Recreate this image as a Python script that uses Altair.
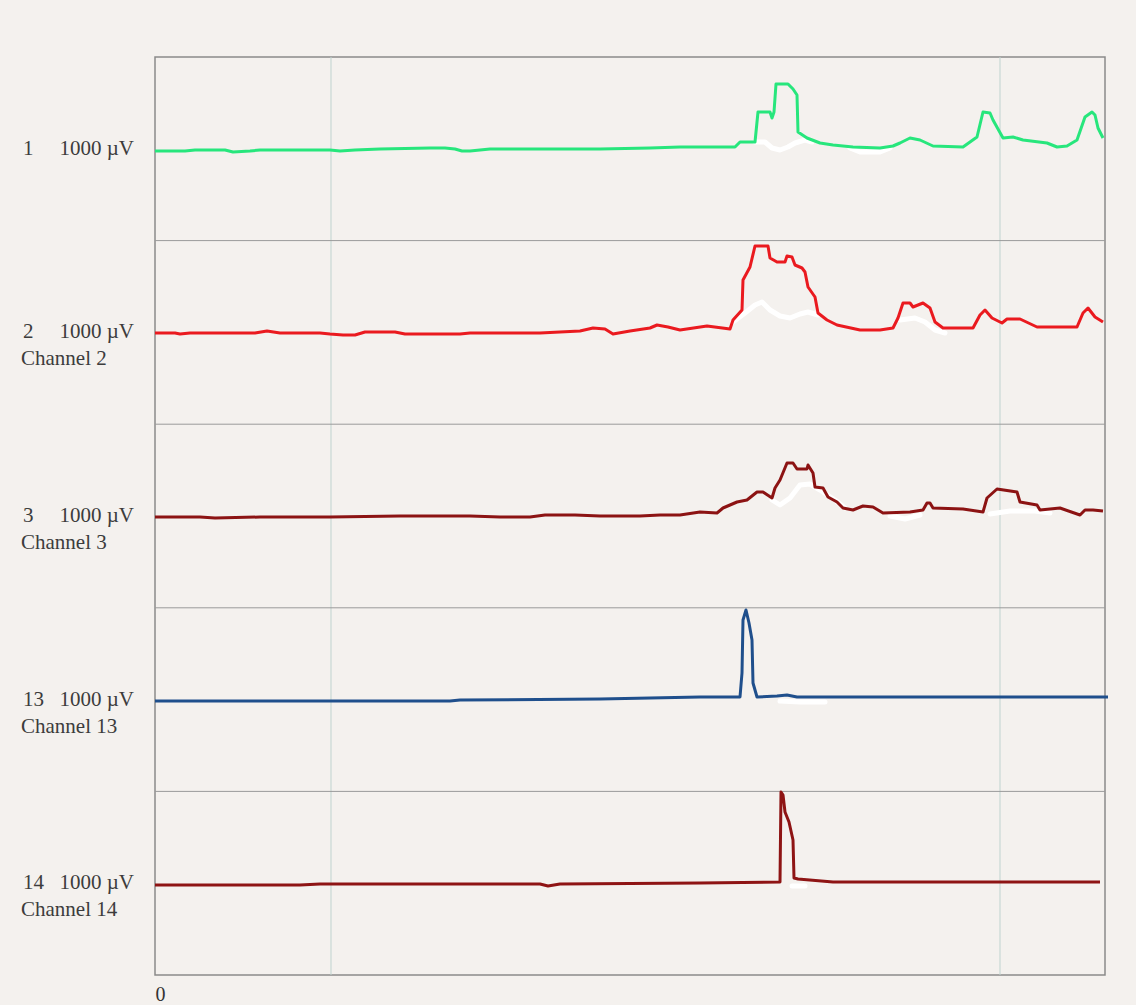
import altair as alt
import pandas as pd

# Each channel strip spans this many µV; strips are stacked bottom to top.
PANEL_UV = 1836
X_MAX = 950

channels = ["1", "2", "3", "13", "14"]
channel_colors = ["#27e67c", "#ea1a1f", "#8c1313", "#1f4f8c", "#8e1414"]
sensitivity = "1000 µV"
sub_labels = ["", "Channel 2", "Channel 3", "Channel 13", "Channel 14"]

# Marker positions along the time axis
markers_x = [176, 845]
axis_labels_x = [0]

# --- channel 1 -------------------------------------------------------------
ch1_x = [0, 30, 40, 70, 78, 95, 105, 175, 185, 200, 225, 275, 290, 300, 307, 315,
         325, 335, 445, 495, 525, 545, 580, 585, 600, 603, 615, 617, 619, 621, 633,
         638, 642, 643, 652, 665, 678, 698, 725, 738, 745, 755, 765, 778, 808, 822,
         828, 835, 838, 848, 858, 868, 892, 902, 912, 922, 930, 937, 940, 943, 948]
ch1_uv = [-22, -22, -12, -12, -32, -22, -12, -12, -22, -12, -2, 8, 8, -2, -22, -22,
          -12, -2, -2, 8, 18, 18, 18, 68, 68, 368, 368, 308, 368, 648, 648,
          598, 538, 168, 108, 58, 38, 18, 8, 28, 58, 108, 88, 28, 18, 118,
          368, 358, 288, 108, 118, 88, 58, 18, 28, 88, 318, 368, 338, 208, 108]
ch1_ref_x = [[600, 610, 617, 625, 633, 640, 650, 657], [695, 705, 725, 735]]
ch1_ref_uv = [[68, 68, 8, -12, 18, 58, 88, 68], [8, -32, -32, 8]]

# --- channel 2 -------------------------------------------------------------
ch2_x = [0, 20, 25, 35, 100, 112, 125, 165, 175, 188, 200, 210, 240, 250, 305, 315,
         385, 405, 425, 438, 450, 458, 475, 495, 502, 513, 525, 552, 575, 578, 587,
         588, 595, 600, 613, 615, 622, 630, 632, 637, 640, 647, 650, 653, 660, 663,
         672, 682, 705, 725, 738, 743, 748, 755, 758, 768, 775, 780, 788, 818, 825,
         830, 837, 847, 852, 865, 882, 922, 928, 933, 940, 948]
ch2_uv = [-6, -6, -16, -6, -6, 14, -6, -6, -16, -26, -26, 4, 4, -16, -16, -6,
          -6, 4, 14, 44, 34, -16, 14, 44, 74, 54, 24, 64, 34, 124, 224,
          524, 654, 864, 864, 744, 704, 704, 764, 754, 674, 644, 604, 454, 354, 194,
          124, 74, 24, 24, 44, 144, 294, 294, 254, 294, 244, 104, 44, 44, 174,
          224, 144, 94, 134, 134, 54, 54, 194, 244, 154, 104]
ch2_ref_x = [[578, 590, 600, 607, 615, 625, 635, 645, 653, 663], [745, 760, 770, 780, 790]]
ch2_ref_uv = [[104, 194, 274, 304, 224, 164, 144, 184, 204, 174], [124, 144, 104, 24, -6]]

# --- channel 3 -------------------------------------------------------------
ch3_x = [0, 45, 60, 105, 175, 245, 315, 345, 375, 390, 420, 445, 485, 505, 525, 545,
         562, 568, 582, 592, 602, 608, 617, 620, 625, 632, 638, 642, 652, 653, 658,
         660, 668, 673, 682, 688, 698, 708, 718, 728, 755, 768, 772, 775, 778, 808,
         828, 832, 842, 862, 865, 882, 885, 905, 925, 930, 938, 948]
ch3_uv = [-10, -10, -20, -10, -10, 0, 0, -10, -10, 10, 10, 0, 0, 10, 10, 40,
          30, 80, 140, 160, 240, 240, 180, 280, 360, 530, 530, 470, 470, 510, 430,
          290, 280, 190, 140, 80, 60, 100, 90, 30, 40, 60, 130, 130, 80, 70,
          40, 180, 270, 240, 140, 110, 60, 80, 10, 60, 60, 50]
ch3_ref_x = [[617, 625, 635, 645, 655, 665, 680, 690], [735, 750, 765],
             [835, 855, 880, 895]]
ch3_ref_uv = [[160, 110, 180, 310, 320, 260, 160, 80], [0, -30, 10],
              [20, 50, 50, 30]]

# --- channel 13 ------------------------------------------------------------
ch13_x = [0, 45, 145, 295, 305, 445, 545, 585, 587, 588, 591, 594, 597, 598, 600,
          602, 622, 632, 642, 953]
ch13_uv = [-14, -14, -14, -14, -4, 6, 26, 26, 266, 796, 896, 766, 596, 166, 96,
           26, 36, 46, 26, 26]
ch13_ref_x = [[625, 645, 670]]
ch13_ref_uv = [[-14, -24, -24]]

# --- channel 14 ------------------------------------------------------------
ch14_x = [0, 145, 165, 385, 393, 405, 545, 625, 626, 628, 630, 634, 638, 639, 643,
          678, 945]
ch14_uv = [-18, -18, -8, -8, -28, -8, 2, 12, 912, 882, 712, 612, 432, 52, 42,
           12, 12]
ch14_ref_x = [[637, 650]]
ch14_ref_uv = [[-28, -28]]

traces_x = [ch1_x, ch2_x, ch3_x, ch13_x, ch14_x]
traces_uv = [ch1_uv, ch2_uv, ch3_uv, ch13_uv, ch14_uv]
refs_x = [ch1_ref_x, ch2_ref_x, ch3_ref_x, ch13_ref_x, ch14_ref_x]
refs_uv = [ch1_ref_uv, ch2_ref_uv, ch3_ref_uv, ch13_ref_uv, ch14_ref_uv]

n = len(channels)
# centre line of each strip (channel 1 on top)
centers = {ch: (n - 1 - i) * PANEL_UV + PANEL_UV / 2 for i, ch in enumerate(channels)}

rows, ref_rows, label_rows = [], [], []
for i, ch in enumerate(channels):
    for x, v in zip(traces_x[i], traces_uv[i]):
        rows.append({"channel": ch, "t": x, "y": centers[ch] + v})
    for s, (xs, vs) in enumerate(zip(refs_x[i], refs_uv[i])):
        for x, v in zip(xs, vs):
            ref_rows.append({"seg": f"{ch}-{s}", "t": x, "y": centers[ch] + v})
    label_rows.append({"channel": ch, "y": centers[ch], "num": ch,
                       "sens": sensitivity, "sub": sub_labels[i]})

traces = pd.DataFrame(rows)
refs = pd.DataFrame(ref_rows)
labels = pd.DataFrame(label_rows)
dividers = pd.DataFrame({"y": [PANEL_UV * k for k in range(1, n)]})
markers = pd.DataFrame({"t": markers_x})

TEXT_FONT = "Liberation Serif"
TEXT_COLOR = "#3c3c3c"
TEXT_SIZE = 21

x_scale = alt.Scale(domain=[0, X_MAX], nice=False, zero=False)
y_scale = alt.Scale(domain=[0, PANEL_UV * n], nice=False, zero=False)
x_axis = alt.Axis(values=axis_labels_x, title=None, ticks=False, domain=False,
                  grid=False, labelFont=TEXT_FONT, labelFontSize=20,
                  labelColor="#333333", labelPadding=9)

marker_rules = alt.Chart(markers).mark_rule(color="#bfd3cf", strokeWidth=1).encode(
    x=alt.X("t:Q", scale=x_scale, axis=x_axis)
)

divider_rules = alt.Chart(dividers).mark_rule(color="#9a9a9a", strokeWidth=1).encode(
    y=alt.Y("y:Q", scale=y_scale, axis=None)
)

ref_lines = alt.Chart(refs).mark_line(
    color="#ffffff", strokeWidth=5, strokeJoin="round", strokeCap="round"
).encode(
    x=alt.X("t:Q", scale=x_scale, axis=x_axis),
    y=alt.Y("y:Q", scale=y_scale, axis=None),
    detail="seg:N",
)

trace_lines = alt.Chart(traces).mark_line(strokeWidth=3, strokeJoin="round").encode(
    x=alt.X("t:Q", scale=x_scale, axis=x_axis),
    y=alt.Y("y:Q", scale=y_scale, axis=None),
    color=alt.Color("channel:N", scale=alt.Scale(domain=channels, range=channel_colors),
                    legend=None),
    detail="channel:N",
)

base_text = alt.Chart(labels).encode(y=alt.Y("y:Q", scale=y_scale, axis=None))

num_text = base_text.mark_text(align="left", baseline="middle", font=TEXT_FONT,
                               fontSize=TEXT_SIZE, color=TEXT_COLOR).encode(
    x=alt.value(-132), text="num:N")
sens_text = base_text.mark_text(align="right", baseline="middle", font=TEXT_FONT,
                                fontSize=TEXT_SIZE, color=TEXT_COLOR).encode(
    x=alt.value(-21), text="sens:N")
sub_text = base_text.mark_text(align="left", baseline="middle", font=TEXT_FONT,
                               fontSize=TEXT_SIZE, color=TEXT_COLOR, dy=27).encode(
    x=alt.value(-134), text="sub:N")

chart = alt.layer(
    marker_rules, divider_rules, ref_lines, trace_lines, num_text, sens_text, sub_text
).properties(
    width=950,
    height=918,
    background="#f4f1ee",
    padding={"left": 155, "top": 57, "right": 31, "bottom": 30},
    autosize=alt.AutoSizeParams(type="none"),
).configure_view(
    stroke="#8a8a8a", strokeWidth=1.5, fill="#f4f1ee"
)

chart.save("out.html", embed_options={"renderer": "svg", "actions": False})
